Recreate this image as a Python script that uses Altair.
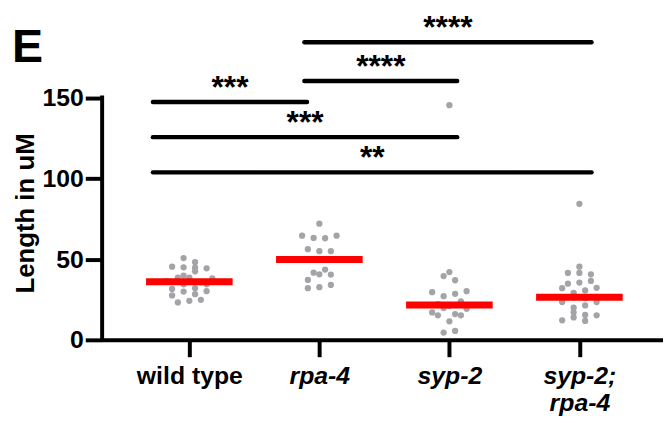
import altair as alt
import pandas as pd

# ---------------- data ----------------
groups = ["wild type", "rpa-4", "syp-2", "syp-2; rpa-4"]
group_labels = ["wild type", "rpa-4", "syp-2", ["syp-2;", "rpa-4"]]

wild_type = [36.4, 38.5, 31.5, 45.3, 34.4, 27.5, 23.2, 44.9, 29.9,
             50.6, 44.7, 38.5, 35.6, 32.0, 28.3, 24.2,
             44.3, 39.8, 34.4, 30.1, 24.8, 48.1, 42.4, 38.1]
rpa_4 = [64.5, 56.1, 41.6, 37.1, 32.0, 63.1, 54.9, 40.6, 71.9,
         62.9, 54.9, 49.8, 43.5, 32.6, 64.5, 40.4, 34.0]
syp_2 = [29.5, 22.1, 17.0, 39.5, 27.0, 19.7, 16.0, 4.5,
         145.3, 28.5, 21.0, 19.2, 15.2, 11.5, 5.5, 42.0, 36.9, 15.2, 30.1, 23.8]
syp_2_rpa_4 = [24.4, 17.0, 12.1, 41.4, 32.0, 26.2, 34.8, 29.1, 23.4, 19.9, 13.9,
               84.2, 41.4, 35.5, 30.6, 25.8, 21.3, 15.4,
               45.3, 40.6, 36.5, 32.2, 26.6, 11.7, 23.4, 15.2]

# significance comparisons (group index pairs), bar height and label
comp_from = [0, 0, 0, 1, 1]
comp_to = [1, 2, 3, 2, 3]
comp_y = [147.2, 125.5, 103.7, 160.2, 184.2]
comp_stars = ["***", "***", "**", "****", "****"]

y_ticks = [0, 50, 100, 150]

# ---------------- layout helpers ----------------
STEP = 0.0884   # horizontal spacing between dots (in category units)
ROW = 3.7       # vertical bin height for dot rows (value units)


def scatter_offsets(values):
    """GraphPad-like scatter: bin into rows, centre each row's dots."""
    order = sorted(range(len(values)), key=lambda i: values[i])
    rows, cur, start = [], [], None
    for i in order:
        v = values[i]
        if cur and v - start >= ROW:
            rows.append(cur)
            cur = []
        if not cur:
            start = v
        cur.append(i)
    if cur:
        rows.append(cur)
    off = [0.0] * len(values)
    for r in rows:
        r = sorted(r)
        n = len(r)
        for j, i in enumerate(r):
            off[i] = (j - (n - 1) / 2) * STEP
    return off


records = []
for gi, vals in enumerate([wild_type, rpa_4, syp_2, syp_2_rpa_4]):
    offs = scatter_offsets(vals)
    for v, o in zip(vals, offs):
        records.append({"group": groups[gi], "gi": gi, "value": v, "pos": gi + o})
df = pd.DataFrame(records)

left_end = {0: -0.28, 1: 0.885}
right_end = {1: 0.905, 2: 2.06, 3: 3.093}
comp = pd.DataFrame({
    "x1": [left_end[a] for a in comp_from],
    "x2": [right_end[b] for b in comp_to],
    "y": comp_y,
    "stars": comp_stars,
})
comp["xm"] = (comp["x1"] + comp["x2"]) / 2

FONT = "Liberation Sans"
xscale = alt.Scale(domain=[-0.6707, 3.643], nice=False, zero=False)
yscale = alt.Scale(domain=[0, 200], nice=False, zero=False)

label_expr = "[" + ",".join(
    ("[" + ",".join(f"'{s}'" for s in l) + "]") if isinstance(l, list) else f"'{l}'"
    for l in group_labels) + "][datum.value]"

x_axis = alt.Axis(
    values=[0, 1, 2, 3], labelExpr=label_expr, title=None, grid=False,
    domainColor="black", domainWidth=4, tickColor="black", tickWidth=4, tickSize=17,
    labelFont=FONT, labelFontSize=25, labelFontWeight="bold", labelColor="black",
    labelFontStyle={"condition": {"test": "datum.value == 0", "value": "normal"}, "value": "italic"},
    labelPadding=7, labelLineHeight=27, labelOverlap=False, labelFlush=False, labelBound=False,
)
y_axis = alt.Axis(
    values=y_ticks, title=None, grid=False, domain=False,
    tickColor="black", tickWidth=4, tickSize=17,
    labelFont=FONT, labelFontSize=25, labelFontWeight="bold", labelColor="black",
    labelPadding=2,
)

points = alt.Chart(df).mark_circle(size=40, color="#a3a3a8", opacity=1).encode(
    x=alt.X("pos:Q", scale=xscale, axis=x_axis),
    y=alt.Y("value:Q", scale=yscale, axis=y_axis),
)

median = alt.Chart(df).transform_aggregate(
    med="median(value)", groupby=["gi"]
).transform_calculate(
    a="datum.gi - 0.333", b="datum.gi + 0.333"
).mark_rule(color="#ff0000", strokeWidth=7).encode(
    x=alt.X("a:Q", scale=xscale), x2="b:Q", y=alt.Y("med:Q", scale=yscale)
)

yline = alt.Chart(pd.DataFrame({"y0": [y_ticks[0]], "y1": [y_ticks[-1]]})).mark_rule(
    color="black", strokeWidth=4, strokeCap="square"
).encode(x=alt.value(0), y=alt.Y("y0:Q", scale=yscale), y2="y1:Q")

bars = alt.Chart(comp).mark_rule(color="black", strokeWidth=4.5, strokeCap="round").encode(
    x=alt.X("x1:Q", scale=xscale), x2="x2:Q", y=alt.Y("y:Q", scale=yscale)
)
stars = alt.Chart(comp).mark_text(
    font=FONT, fontSize=32, fontWeight="bold", color="black",
    align="center", baseline="alphabetic", dy=-4
).encode(x=alt.X("xm:Q", scale=xscale), y=alt.Y("y:Q", scale=yscale), text="stars:N")

panel = alt.Chart(pd.DataFrame({"t": ["E"]})).mark_text(
    font=FONT, fontSize=47, fontWeight="bold", color="black",
    align="left", baseline="alphabetic"
).encode(x=alt.value(-91), y=alt.value(46), text="t:N")

ytitle = alt.Chart(pd.DataFrame({"t": ["Length in uM"]})).mark_text(
    font=FONT, fontSize=26, fontWeight="bold", color="black",
    align="center", baseline="middle", angle=270
).encode(x=alt.value(-76.5), y=alt.value(198.5), text="t:N")

chart = alt.layer(points, median, yline, bars, stars, panel, ytitle).properties(
    width=566, height=326,
    autosize=alt.AutoSizeParams(type="none"),
    padding={"left": 95, "top": 7, "right": 0, "bottom": 80},
).configure_view(stroke=None)

chart.save("out.html", embed_options={"renderer": "svg", "actions": False})
